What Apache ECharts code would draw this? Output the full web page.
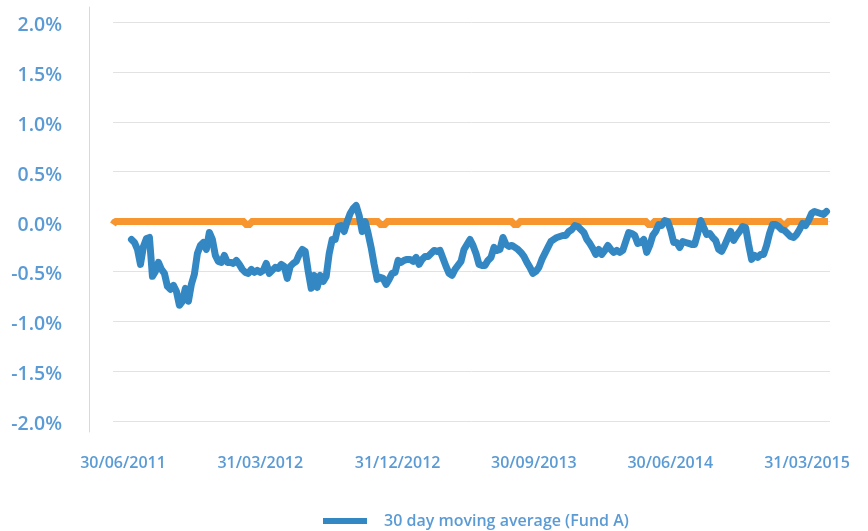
<!DOCTYPE html>
<html>
<head>
<meta charset="utf-8">
<script src="https://cdn.jsdelivr.net/npm/echarts@6/dist/echarts.min.js"></script>
<style>
html,body{margin:0;padding:0;background:#fff}
#chart{width:868px;height:531px}
</style>
</head>
<body>
<div id="chart"></div>
<script>
// x axis labels (dates shown under the chart)
var tickDates = ['2011-06-30', '2012-03-31', '2012-12-31', '2013-09-30', '2014-06-30', '2015-03-31'];
var axisStart = '2011-06-10', axisEnd = '2015-05-16';

// 30 day moving average (Fund A), in %, one reading every 6 days
var maStart = '2011-07-17', maStepDays = 6;
var maValues = [
  -0.18,-0.21,-0.28,-0.43,-0.25,-0.17,-0.16,-0.55,-0.50,-0.41,
  -0.48,-0.52,-0.65,-0.68,-0.64,-0.70,-0.84,-0.80,-0.67,-0.80,
  -0.63,-0.53,-0.32,-0.24,-0.21,-0.28,-0.11,-0.18,-0.34,-0.40,
  -0.41,-0.34,-0.41,-0.41,-0.42,-0.39,-0.43,-0.48,-0.51,-0.52,
  -0.48,-0.51,-0.49,-0.51,-0.49,-0.42,-0.52,-0.49,-0.46,-0.47,
  -0.43,-0.45,-0.57,-0.45,-0.42,-0.40,-0.33,-0.28,-0.30,-0.50,
  -0.67,-0.54,-0.66,-0.54,-0.60,-0.55,-0.32,-0.18,-0.18,-0.05,
  -0.04,-0.10,0.00,0.08,0.13,0.16,0.06,-0.10,0.00,-0.12,
  -0.26,-0.43,-0.58,-0.56,-0.57,-0.63,-0.58,-0.52,-0.51,-0.39,
  -0.41,-0.39,-0.38,-0.38,-0.40,-0.36,-0.43,-0.38,-0.35,-0.35,
  -0.32,-0.29,-0.30,-0.29,-0.37,-0.45,-0.52,-0.54,-0.48,-0.44,
  -0.40,-0.28,-0.23,-0.18,-0.24,-0.32,-0.43,-0.44,-0.44,-0.39,
  -0.36,-0.26,-0.29,-0.28,-0.16,-0.23,-0.25,-0.24,-0.26,-0.28,
  -0.31,-0.35,-0.41,-0.46,-0.52,-0.50,-0.46,-0.38,-0.32,-0.26,
  -0.20,-0.18,-0.16,-0.15,-0.14,-0.14,-0.10,-0.08,-0.04,-0.05,
  -0.08,-0.11,-0.18,-0.22,-0.27,-0.33,-0.28,-0.33,-0.29,-0.24,
  -0.28,-0.31,-0.29,-0.31,-0.29,-0.20,-0.11,-0.12,-0.14,-0.22,
  -0.21,-0.18,-0.31,-0.24,-0.14,-0.10,-0.03,-0.04,0.01,0.00,
  -0.09,-0.21,-0.21,-0.26,-0.20,-0.21,-0.22,-0.23,-0.23,-0.12,
  0.01,-0.06,-0.13,-0.12,-0.16,-0.19,-0.28,-0.30,-0.24,-0.17,
  -0.10,-0.19,-0.14,-0.10,-0.05,-0.06,-0.23,-0.38,-0.34,-0.36,
  -0.33,-0.33,-0.24,-0.12,-0.03,-0.03,-0.05,-0.08,-0.09,-0.12,
  -0.15,-0.16,-0.13,-0.08,-0.02,-0.04,0.01,0.08,0.10,0.09,
  0.08,0.07,0.10
];

// orange reference line, in %
var refDates = [
  '2011-06-10','2011-06-14','2011-06-14',
  '2012-02-29','2012-02-29','2012-03-12','2012-03-12',
  '2012-11-24','2012-11-24','2012-12-08','2012-12-08',
  '2013-08-19','2013-08-19','2013-08-31','2013-08-31',
  '2014-05-15','2014-05-15','2014-05-27','2014-05-27',
  '2015-02-07','2015-02-07','2015-02-19','2015-02-19',
  '2015-05-12'
];
var refValues = [
  -0.03,-0.03,0,
  0,-0.03,-0.03,0,
  0,-0.03,-0.03,0,
  0,-0.03,-0.03,0,
  0,-0.03,-0.03,0,
  0,-0.03,-0.03,0,
  0
];

var labelBlue = '#5b9bd5';
var font = '"Open Sans", sans-serif';

function ts(s) {
  var p = s.split('-');
  return Date.UTC(+p[0], +p[1] - 1, +p[2]);
}
function pad(n) { return n < 10 ? '0' + n : '' + n; }
function fmtDate(v) {
  var d = new Date(v);
  return pad(d.getUTCDate()) + '/' + pad(d.getUTCMonth() + 1) + '/' + d.getUTCFullYear();
}

var maData = [];
for (var i = 0; i < maValues.length; i++) {
  maData.push([ts(maStart) + i * maStepDays * 86400000, maValues[i]]);
}
var refData = [];
for (var j = 0; j < refDates.length; j++) {
  refData.push([ts(refDates[j]), refValues[j]]);
}

var myChart = echarts.init(document.getElementById('chart'));
var option = {
  animation: false,
  backgroundColor: '#fff',
  grid: [
    { left: 113, right: 38, top: 22, bottom: 110 },
    { left: 89, width: 1, top: 7, bottom: 99 }   // just the grey vertical axis line
  ],
  legend: {
    data: ['30 day moving average (Fund A)'],
    left: 323,
    top: 513,
    padding: 0,
    icon: 'rect',
    itemWidth: 44,
    itemHeight: 6,
    textStyle: { color: labelBlue, fontFamily: font, fontWeight: 600, fontSize: 16, padding: [0, 0, 0, 12] }
  },
  xAxis: [
    {
      type: 'value',
      min: ts(axisStart),
      max: ts(axisEnd),
      axisLine: { show: false },
      axisTick: { show: false },
      splitLine: { show: false },
      axisLabel: {
        customValues: tickDates.map(ts),
        formatter: function (v) { return fmtDate(v); },
        color: labelBlue,
        fontFamily: font,
        fontWeight: 600,
        fontSize: 16,
        margin: 34,
        hideOverlap: false
      }
    },
    { type: 'value', gridIndex: 1, show: false }
  ],
  yAxis: [
    {
      type: 'value',
      min: -2,
      max: 2,
      interval: 0.5,
      axisLine: { show: false },
      axisTick: { show: false },
      splitLine: { lineStyle: { color: '#e2e2e2', width: 1 } },
      axisLabel: {
        formatter: function (v) { return '{p|' + v.toFixed(1) + '%}'; },
        margin: 51,
        rich: {
          p: {
            color: labelBlue,
            fontFamily: font,
            fontWeight: 600,
            fontSize: 19.5,
            padding: [7, 0, 0, 0]
          }
        }
      }
    },
    {
      type: 'value',
      gridIndex: 1,
      min: 0, max: 1,
      axisLine: { show: true, lineStyle: { color: '#d9d9d9', width: 1 } },
      axisTick: { show: false },
      axisLabel: { show: false },
      splitLine: { show: false }
    }
  ],
  series: [
    {
      name: 'Reference',
      type: 'line',
      data: refData,
      showSymbol: false,
      lineStyle: { color: '#f7962f', width: 7 },
      itemStyle: { color: '#f7962f' }
    },
    {
      name: '30 day moving average (Fund A)',
      type: 'line',
      data: maData,
      showSymbol: false,
      lineStyle: { color: '#3388c4', width: 7, join: 'round', cap: 'round' },
      itemStyle: { color: '#3388c4' }
    }
  ]
};
myChart.setOption(option);
</script>
</body>
</html>
